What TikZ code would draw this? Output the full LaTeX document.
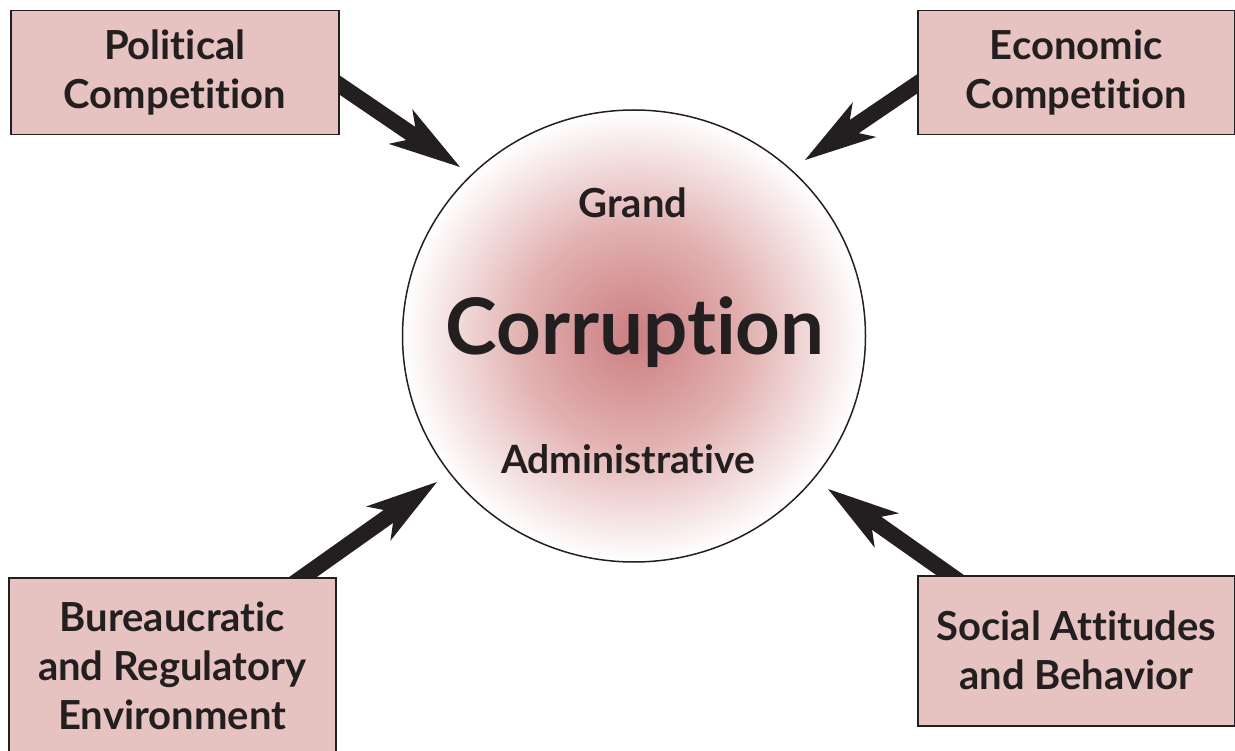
\documentclass[tikz,border=0pt]{standalone}
\usepackage{fontspec}
\setmainfont{Lato}[Ligatures={NoCommon}]
\usetikzlibrary{arrows.meta,calc,shapes.geometric,backgrounds}
\definecolor{boxfill}{RGB}{230,195,192}
\definecolor{ink}{RGB}{35,31,32}
\definecolor{core}{RGB}{203,126,129}
\definecolor{midc}{RGB}{226,176,176}
\pgfdeclareradialshading{corrshade}{\pgfpoint{0bp}{0bp}}{color(0bp)=(core); color(12bp)=(midc); color(25bp)=(white); color(50bp)=(white)}
\begin{document}
\begin{tikzpicture}[x=1pt,y=-1pt,
  factor/.style={draw=ink, line width=1.5pt, fill=boxfill, text=ink,
    font=\fontsize{40}{49}\selectfont\bfseries, align=center, inner sep=0pt, anchor=north west},
  inner/.style={text=ink, inner sep=0pt, anchor=base},
  push/.style={draw=ink, line width=16pt,
    -{Stealth[length=72pt,width=42pt,inset=20pt,line width=0pt]}}]
\useasboundingbox (0,0) rectangle (1235,751);
\node[factor, minimum width=328pt, minimum height=124pt] (pol) at (10,10) {Political\\Competition};
\node[factor, minimum width=317pt, minimum height=124pt] (eco) at (917,10) {Economic\\Competition};
\node[factor, minimum width=327pt, minimum height=176pt] (bur) at (8,577) {Bureaucratic\\and Regulatory\\Environment};
\node[factor, minimum width=317pt, minimum height=150pt] (soc) at (917,575) {Social Attitudes\\and Behavior};
\node[ellipse, minimum width=463pt, minimum height=452pt, draw=ink, line width=1.5pt,
  shading=corrshade, inner sep=0pt] (corr) at (634,336) {};
\node[inner, font=\fontsize{40}{44}\selectfont\bfseries] (grand) at (633,218) {Grand};
\node[inner, font=\fontsize{78}{80}\selectfont\bfseries] (corruption) at (635,355) {Corruption};
\node[inner, font=\fontsize{39}{44}\selectfont\bfseries] (admin) at (628,473) {Administrative};
\coordinate (polS) at ($(pol.north east)+(0,75)$);
\coordinate (polT) at ($(corr.center)+(-174,-169)$);
\coordinate (ecoS) at ($(eco.north west)+(0,74)$);
\coordinate (ecoT) at ($(corr.center)+(171,-176)$);
\coordinate (burS) at ($(bur.north west)+(295,0)$);
\coordinate (burT) at ($(corr.center)+(-197,146)$);
\coordinate (socS) at ($(soc.north west)+(33,0)$);
\coordinate (socT) at ($(corr.center)+(194,153)$);
\begin{scope}[on background layer]
\draw[push] ($(polS)!-25pt!(polT)$) -- (polT);
\draw[push] ($(ecoS)!-25pt!(ecoT)$) -- (ecoT);
\draw[push] ($(burS)!-25pt!(burT)$) -- (burT);
\draw[push] ($(socS)!-25pt!(socT)$) -- (socT);
\end{scope}
\end{tikzpicture}
\end{document}
